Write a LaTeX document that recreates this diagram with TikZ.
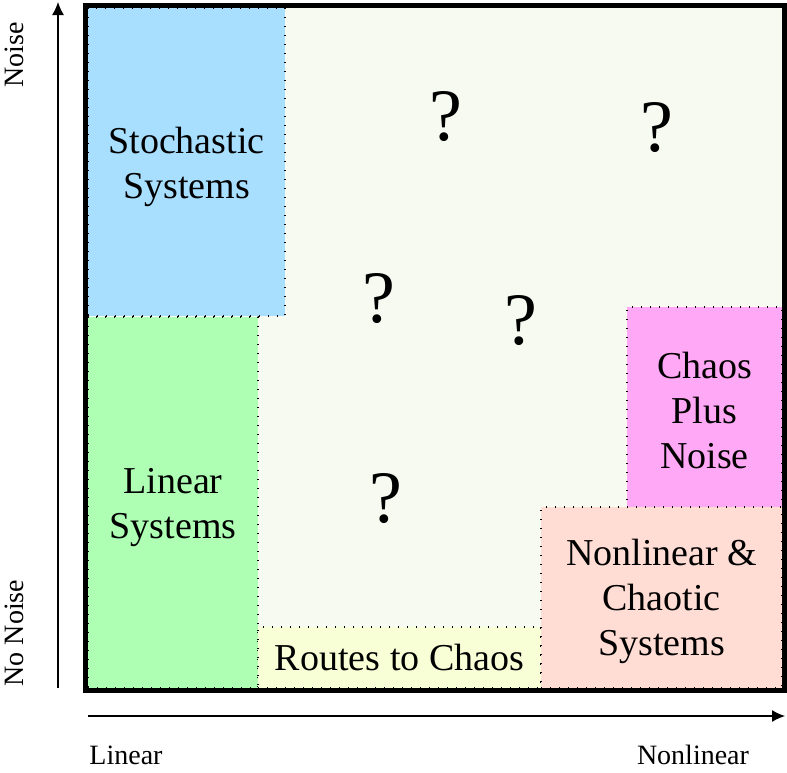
\documentclass[tikz,border=0pt]{standalone}
\usepackage{fontspec}
\setmainfont{Liberation Serif}
\usepackage{tikz}
\usetikzlibrary{arrows.meta,positioning}
\usepackage{xcolor}
\definecolor{stochcol}{RGB}{168,223,255}
\definecolor{linearcol}{RGB}{174,255,180}
\definecolor{routescol}{RGB}{248,255,214}
\definecolor{chaoticcol}{RGB}{255,221,212}
\definecolor{noisycol}{RGB}{255,168,245}
\definecolor{bgcol}{RGB}{247,250,240}

\begin{document}
\begin{tikzpicture}[
    x=0.5pt, y=-0.5pt,
    >=Latex,
    region/.style={draw, fill=#1, anchor=north west, inner sep=0pt, outer sep=0pt,
                   line width=0.6pt, dash pattern=on 0.6pt off 3.9pt},
    regiontext/.style={align=center, inner sep=0pt, font=\fontsize{19}{22.5}\selectfont},
    qmark/.style={font=\fontsize{37}{40}\selectfont, inner sep=0pt},
    axislabel/.style={font=\fontsize{14}{17}\selectfont, inner sep=0pt},
    arr/.style={-{Latex[length=6.5pt, width=6pt]}, line width=0.65pt},
]
\useasboundingbox (0,0) rectangle (787,772);

% ============ PLANE BACKGROUND ============
\fill[bgcol] (88,8) rectangle (782,688);

% ============ KNOWN REGIONS ============
\node[region=stochcol, minimum width=98.5pt, minimum height=154pt] at (88,8) (stoch) {};
\node[region=linearcol, minimum width=85pt, minimum height=185.5pt] at (88,317) (linear) {};
\node[region=routescol, minimum width=141.5pt, minimum height=30.5pt] at (258,627) (routes) {};
\node[region=chaoticcol, minimum width=120.5pt, minimum height=90.5pt] at (541,507) (chaotic) {};
\node[region=noisycol, minimum width=77.5pt, minimum height=100pt] at (627,307) (noisy) {};

% region names (multi-line ones sit a little low)
\node[regiontext, yshift=-2.5pt] at (stoch.center) (stochtxt) {Stochastic\\Systems};
\node[regiontext, yshift=-2.5pt] at (linear.center) (lineartxt) {Linear\\Systems};
\node[regiontext] at (routes.center) (routestxt) {Routes to Chaos};
\node[regiontext, yshift=-2pt] at (chaotic.center) (chaotictxt) {Nonlinear \&\\Chaotic\\Systems};
\node[regiontext, yshift=-1.5pt] at (noisy.center) (noisytxt) {Chaos\\Plus\\Noise};

% ============ UNKNOWN TERRITORY ============
\node[qmark] at (446,117) (q1) {?};
\node[qmark] at (657,128) (q2) {?};
\node[qmark] at (379,299) (q3) {?};
\node[qmark] at (521,321) (q4) {?};
\node[qmark] at (386,499) (q5) {?};

% outer frame
\draw[line width=2.5pt] (85.5,5.5) rectangle (784.5,690);

% ============ AXES ============
\coordinate (ybot) at (58,688);
\coordinate (ytop) at (58,2);
\coordinate (xleft) at (88,716);
\coordinate (xright) at (785,716);
\draw[arr] (ybot) -- (ytop);
\draw[arr] (xleft) -- (xright);

\node[axislabel, rotate=90] at (14,55) (noise) {Noise};
\node[axislabel, rotate=90] at (14,633) (nonoise) {No Noise};
\node[axislabel] at (126,755) (lin) {Linear};
\node[axislabel] at (693,755) (nonlin) {Nonlinear};

\end{tikzpicture}
\end{document}
